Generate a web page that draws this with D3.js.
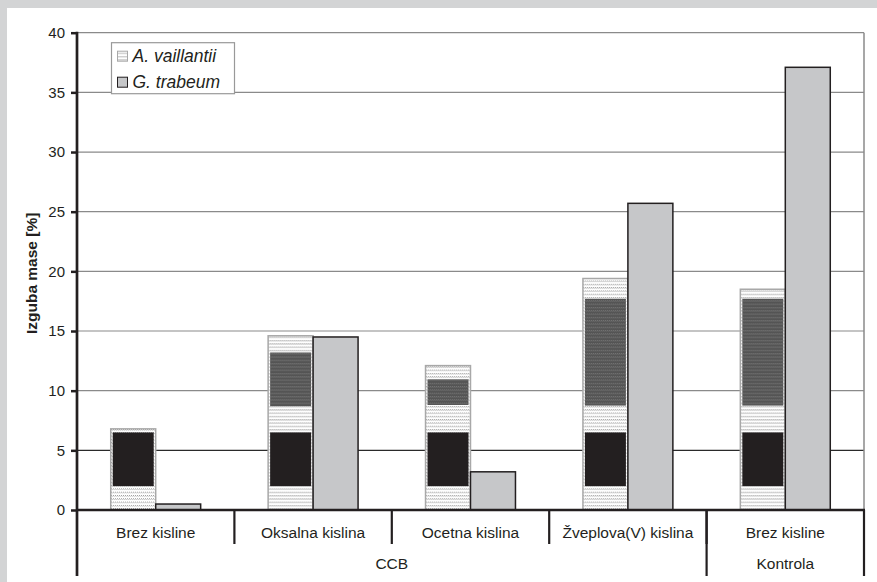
<!DOCTYPE html>
<html>
<head>
<meta charset="utf-8">
<script src="https://cdn.jsdelivr.net/npm/d3@7"></script>
<style>
  html, body { margin: 0; padding: 0; background: #d3d4d5; }
  svg { display: block; font-family: "Liberation Sans", Arial, sans-serif; }
</style>
</head>
<body>
<svg id="chart" width="877" height="582"></svg>
<script>
// data
const categories = ['Brez kisline', 'Oksalna kislina', 'Ocetna kislina', 'Žveplova(V) kislina', 'Brez kisline'];
const groups = ['CCB', 'CCB', 'CCB', 'CCB', 'Kontrola'];
const seriesNames = ['A. vaillantii', 'G. trabeum'];
const vaillantii = [6.8, 14.6, 12.1, 19.4, 18.5];
const trabeum = [0.5, 14.5, 3.2, 25.7, 37.1];
// blocks printed inside the A. vaillantii bars [from, to]
const blackBlocks = [[2, 6.5], [2, 6.5], [2, 6.5], [2, 6.5], [2, 6.5]];
const darkBlocks = [null, [8.7, 13.2], [8.8, 10.95], [8.75, 17.7], [8.75, 17.7]];
const yTicks = [0, 5, 10, 15, 20, 25, 30, 35, 40];

const svg = d3.select('#chart');
const plot = { left: 77, right: 864, top: 32.7, bottom: 510 };

// white panel
svg.append('rect')
  .attr('x', 7).attr('y', 8)
  .attr('width', 877 - 7).attr('height', 582 - 8)
  .attr('fill', '#fff');

const defs = svg.append('defs');
const dots = defs.append('pattern')
  .attr('id', 'dots').attr('patternUnits', 'userSpaceOnUse')
  .attr('width', 2).attr('height', 3.3);
dots.append('rect').attr('width', 2).attr('height', 3.3).attr('fill', '#fff');
dots.append('rect').attr('x', 0).attr('y', 0).attr('width', 1).attr('height', 1).attr('fill', '#9a9a9a');
dots.append('rect').attr('x', 1).attr('y', 0.9).attr('width', 1).attr('height', 0.8).attr('fill', '#c4c4c4');

const stripes = defs.append('pattern')
  .attr('id', 'stripes').attr('patternUnits', 'userSpaceOnUse')
  .attr('width', 2).attr('height', 3.3);
stripes.append('rect').attr('width', 2).attr('height', 3.3).attr('fill', '#545454');
stripes.append('rect').attr('y', 0).attr('width', 1).attr('height', 1).attr('fill', '#7a7a7a');
stripes.append('rect').attr('x', 1).attr('y', 0.9).attr('width', 1).attr('height', 0.8).attr('fill', '#686868');

const y = d3.scaleLinear().domain([0, 40]).range([plot.bottom, plot.top]);
const x0 = d3.scaleBand().domain(d3.range(categories.length)).range([plot.left, plot.right]).padding(0);
const x1 = d3.scaleBand().domain(seriesNames).range([0, x0.bandwidth()]).paddingInner(0).paddingOuter(0.75);

// gridlines
svg.append('g')
  .selectAll('line')
  .data(yTicks.filter(d => d > 0))
  .enter()
  .append('line')
  .attr('x1', plot.left).attr('x2', plot.right)
  .attr('y1', d => y(d)).attr('y2', d => y(d))
  .attr('stroke', d => d === 5 ? '#2a2a2a' : '#8a8a8a')
  .attr('stroke-width', 1.2);

// right border
svg.append('line')
  .attr('x1', plot.right).attr('x2', plot.right)
  .attr('y1', plot.top).attr('y2', plot.bottom)
  .attr('stroke', '#8a8a8a').attr('stroke-width', 1.5);

// bars
const bars = svg.append('g').selectAll('g')
  .data(categories.map((c, i) => i))
  .enter()
  .append('g')
  .attr('transform', i => `translate(${x0(i)},0)`);

bars.append('rect')
  .attr('x', x1('A. vaillantii'))
  .attr('y', i => y(vaillantii[i]))
  .attr('width', x1.bandwidth())
  .attr('height', i => y(0) - y(vaillantii[i]))
  .attr('fill', 'url(#dots)')
  .attr('stroke', '#a8a8a8')
  .attr('stroke-width', 1.5);

bars.append('rect')
  .attr('x', x1('A. vaillantii') + 2)
  .attr('y', i => y(blackBlocks[i][1]))
  .attr('width', x1.bandwidth() - 4)
  .attr('height', i => y(blackBlocks[i][0]) - y(blackBlocks[i][1]))
  .attr('fill', '#231f20');

bars.filter(i => darkBlocks[i])
  .append('rect')
  .attr('x', x1('A. vaillantii') + 2)
  .attr('y', i => y(darkBlocks[i][1]))
  .attr('width', x1.bandwidth() - 4)
  .attr('height', i => y(darkBlocks[i][0]) - y(darkBlocks[i][1]))
  .attr('fill', 'url(#stripes)');

bars.append('rect')
  .attr('x', x1('G. trabeum'))
  .attr('y', i => y(trabeum[i]))
  .attr('width', x1.bandwidth())
  .attr('height', i => y(0) - y(trabeum[i]))
  .attr('fill', '#c6c7c9')
  .attr('stroke', '#231f20')
  .attr('stroke-width', 1.5);

// y axis
const yAxis = svg.append('g')
  .attr('transform', `translate(${plot.left},0)`)
  .call(d3.axisLeft(y).tickValues(yTicks).tickSize(6).tickPadding(6));
yAxis.select('.domain').remove();
yAxis.selectAll('line').attr('stroke', '#231f20').attr('stroke-width', 2.5);
yAxis.selectAll('text')
  .attr('fill', '#231f20')
  .style('font-size', '15px');

svg.append('line')
  .attr('x1', plot.left).attr('x2', plot.left)
  .attr('y1', plot.top - 1).attr('y2', 576)
  .attr('stroke', '#231f20').attr('stroke-width', 2.7);

svg.append('text')
  .attr('transform', `translate(37,${(plot.top + plot.bottom) / 2 + 2}) rotate(-90)`)
  .attr('text-anchor', 'middle')
  .style('font-size', '15.5px')
  .style('font-weight', 'bold')
  .attr('fill', '#231f20')
  .text('Izguba mase [%]');

// x axis
svg.append('line')
  .attr('x1', plot.left).attr('x2', plot.right + 1)
  .attr('y1', y(0)).attr('y2', y(0))
  .attr('stroke', '#231f20').attr('stroke-width', 2.7);

// inner category separators and labels
svg.append('g').selectAll('line')
  .data(d3.range(1, categories.length))
  .enter()
  .append('line')
  .attr('x1', i => x0(i)).attr('x2', i => x0(i))
  .attr('y1', y(0)).attr('y2', 544)
  .attr('stroke', '#231f20').attr('stroke-width', 2.2);

svg.append('g').selectAll('text')
  .data(categories)
  .enter()
  .append('text')
  .attr('x', (d, i) => x0(i) + x0.bandwidth() / 2)
  .attr('y', 538)
  .attr('text-anchor', 'middle')
  .style('font-size', '15.5px')
  .attr('fill', '#231f20')
  .text(d => d);

// outer groups
const groupNames = [...new Set(groups)];
const groupSpans = groupNames.map(g => {
  const idx = groups.map((d, i) => i).filter(i => groups[i] === g);
  return { name: g, x0: x0(idx[0]), x1: x0(idx[idx.length - 1]) + x0.bandwidth() };
});

svg.append('g').selectAll('line')
  .data(groupSpans.slice(1).map(d => d.x0).concat([plot.right]))
  .enter()
  .append('line')
  .attr('x1', d => d).attr('x2', d => d)
  .attr('y1', y(0)).attr('y2', 576)
  .attr('stroke', '#231f20').attr('stroke-width', 2.2);

svg.append('g').selectAll('text')
  .data(groupSpans)
  .enter()
  .append('text')
  .attr('x', d => (d.x0 + d.x1) / 2)
  .attr('y', 569)
  .attr('text-anchor', 'middle')
  .style('font-size', '15.5px')
  .attr('fill', '#231f20')
  .text(d => d.name);

// legend
const legend = svg.append('g').attr('transform', 'translate(111.5,42.7)');
legend.append('rect')
  .attr('width', 123).attr('height', 51)
  .attr('fill', '#fff')
  .attr('stroke', '#999').attr('stroke-width', 1.2);

const legendFill = ['url(#dots)', '#c6c7c9'];
const legendStroke = ['#a8a8a8', '#231f20'];
legend.selectAll('rect.swatch')
  .data(seriesNames)
  .enter()
  .append('rect')
  .attr('class', 'swatch')
  .attr('x', 6).attr('y', (d, i) => 8.5 + i * 26)
  .attr('width', 10).attr('height', 10)
  .attr('fill', (d, i) => legendFill[i])
  .attr('stroke', (d, i) => legendStroke[i])
  .attr('stroke-width', 1);

legend.selectAll('text')
  .data(seriesNames)
  .enter()
  .append('text')
  .attr('x', 21).attr('y', (d, i) => 19.5 + i * 26)
  .style('font-size', '17.5px')
  .style('font-style', 'italic')
  .attr('fill', '#231f20')
  .text(d => d);
</script>
</body>
</html>
